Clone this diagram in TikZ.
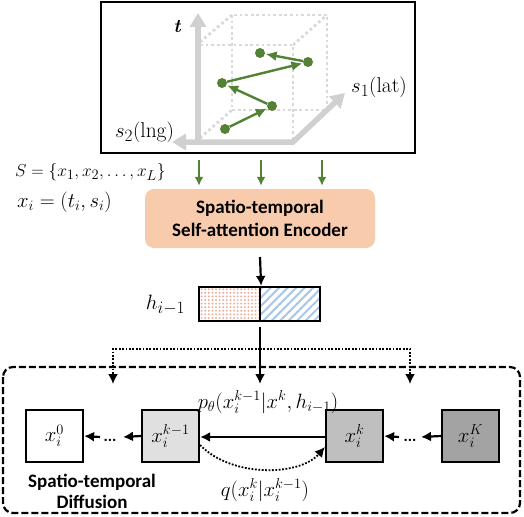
\documentclass[tikz,border=0pt]{standalone}
\usepackage{fontspec}
\newfontfamily\calib{Carlito}
\renewcommand\defaultscriptratio{.76}
\renewcommand\defaultscriptscriptratio{.6}
\usetikzlibrary{arrows.meta,patterns.meta}
\definecolor{axgray}{HTML}{D0D0D0}
\definecolor{cubegray}{HTML}{D9D9D9}
\definecolor{ptgreen}{HTML}{548235}
\definecolor{peach}{HTML}{F8CBAD}
\definecolor{salmon}{HTML}{F2AE9C}
\definecolor{lblue}{HTML}{A9C8E8}
\definecolor{g1}{HTML}{DFE0DF}
\definecolor{g2}{HTML}{BFBFBF}
\definecolor{g3}{HTML}{A3A3A3}
\begin{document}
\begin{tikzpicture}[x=1pt,y=-1pt,
  mtxt/.style={inner sep=0pt, font=\fontsize{18.5}{21}\selectfont},
  btxt/.style={inner sep=0pt, align=center, font=\calib\bfseries\fontsize{19}{24}\selectfont},
  axis/.style={draw=axgray, line width=5.5pt, -{Triangle[length=14pt,width=16pt]}},
  axis2/.style={draw=axgray, line width=5.5pt, {Triangle[length=14pt,width=16pt]}-{Triangle[length=14pt,width=16pt]}, line join=miter},
  cube/.style={draw=cubegray, line width=2.8pt, dash pattern=on 2.8pt off 2.8pt},
  gpt/.style={circle, fill=ptgreen, inner sep=0pt, minimum size=10pt},
  garr/.style={draw=ptgreen, line width=2.4pt, -{Latex[length=11pt,width=10pt]}, shorten >=0.5pt},
  garrdown/.style={draw=ptgreen, line width=2.4pt, -{Latex[length=9pt,width=9pt]}},
  arr/.style={draw=black, line width=2.2pt, -{Latex[length=10pt,width=10pt]}},
  dotarr/.style={draw=black, line width=1.8pt, dash pattern=on 1.8pt off 1.6pt, -{Latex[length=10pt,width=10pt]}},
  sbox/.style={draw=black, line width=2.2pt, minimum width=57pt, minimum height=52pt, inner sep=0pt, font=\fontsize{20}{22}\selectfont},
  ell/.style={inner sep=0pt, font=\calib\bfseries\fontsize{16}{18}\selectfont},
]
\useasboundingbox (0,0) rectangle (524,516);

% ---------------- top panel ----------------
\draw[line width=2.2pt] (101,2) rectangle (415,153);
% dotted cube
\draw[cube] (232,15) rectangle (327,110);
\draw[cube] (200,45) -- (293,45) -- (293,140);
\draw[cube] (200,42) -- (232,15);
\draw[cube] (293,45) -- (327,15);
\draw[cube] (200,138) -- (232,110);
% axes
\coordinate (o) at (198,142);
\coordinate (corner) at (293,142);
\coordinate (tend) at (198,13);
\coordinate (s2end) at (172,142);
\coordinate (s1end) at (345,93);
\draw[axis] (o) -- (tend);
\draw[axis2] (s2end) -- (corner) -- (s1end);
\node[inner sep=0pt, font=\fontsize{19}{20}\selectfont\bfseries\itshape] (tl) at (177,26) {t};
\node[mtxt, font=\fontsize{21.5}{23}\selectfont] (s1l) at (379,87) {$s_1(\mathrm{lat})$};
\node[mtxt, font=\fontsize{21.5}{23}\selectfont] (s2l) at (144.5,132) {$s_2(\mathrm{lng})$};
% trajectory
\node[gpt] (p1) at (225,129) {};
\node[gpt] (p2) at (272,106) {};
\node[gpt] (p3) at (222,83) {};
\node[gpt] (p4) at (308,62) {};
\node[gpt] (p5) at (260,53) {};
\draw[garr] (p1) -- (p2);
\draw[garr] (p2) -- (p3);
\draw[garr] (p3) -- (p4);
\draw[garr] (p4) -- (p5);

% ---------------- encoder ----------------
\node[mtxt, anchor=west] (seq) at (15,172) {$S=\{x_1,x_2,\ldots,x_L\}$};
\node[mtxt, anchor=west, font=\fontsize{20.5}{22}\selectfont] (xi) at (17,202) {$x_i=(t_i,s_i)$};
\node[btxt, fill=peach, rounded corners=9pt, minimum width=230pt, minimum height=59pt] (enc) at (260,218.5) {Spatio-temporal\\[-1pt]Self-attention Encoder};
\coordinate (g1s) at (199,160);
\coordinate (g2s) at (261,160);
\coordinate (g3s) at (322,160);
\draw[garrdown] (g1s) -- ([yshift=3pt]g1s |- enc.north);
\draw[garrdown] (g2s) -- ([yshift=3pt]g2s |- enc.north);
\draw[garrdown] (g3s) -- ([yshift=3pt]g3s |- enc.north);

% ---------------- hidden state ----------------
\node[draw=black, line width=2.2pt, minimum width=61pt, minimum height=34pt, inner sep=0pt,
  pattern={Dots[radius=1.1pt, distance=3.6pt]}, pattern color=salmon] (hl) at (229.5,304) {};
\node[draw=black, line width=2.2pt, minimum width=60pt, minimum height=34pt, inner sep=0pt,
  pattern={Lines[angle=45, distance=6pt, line width=2pt]}, pattern color=lblue] (hr) at (290,304) {};
\node[mtxt, font=\fontsize{22.5}{24}\selectfont] (hlab) at (165.5,305) {$h_{i-1}$};
\coordinate (encout) at (260,257);
\draw[arr] (encout) -- (hl.north east);

% ---------------- diffusion ----------------
\draw[line width=2.2pt, dash pattern=on 7pt off 3pt, rounded corners=10pt] (3,367) rectangle (520,513);
\coordinate (hout) at (260,327);
\coordinate (jn) at (260,349);
\coordinate (cm) at (260,384);
\coordinate (cl) at (113,384);
\coordinate (cr) at (410,384);
\draw[arr] (hout) -- (cm);
\draw[dotarr] (jn) -| (cl);
\draw[dotarr] (jn) -| (cr);

\node[sbox, fill=white] (x0) at (54.5,436) {$x_i^0$};
\node[sbox, fill=g1] (xkm) at (170.5,436) {$x_i^{k-1}$};
\node[sbox, fill=g2] (xk) at (354.5,436) {$x_i^k$};
\node[sbox, fill=g3] (xK) at (470.5,436) {$x_i^K$};
\node[ell] (d1) at (110,440) {...};
\node[ell] (d2) at (410,440) {...};
\coordinate (a1) at (123,437);
\coordinate (a2) at (100,437);
\coordinate (a3) at (421,437);
\coordinate (a4) at (399,437);
\draw[arr] (xkm.west) -- (a1);
\draw[arr] (a2) -- (x0.east);
\draw[arr] (xK.west) -- (a3);
\draw[arr] (a4) -- (xk.east);
\draw[arr] ([yshift=-1pt]xk.west) -- ([yshift=-1pt]xkm.east);
\draw[dotarr] ([yshift=-9pt]xkm.east) .. controls (232,478) and (300,476) .. ([yshift=-11pt]xk.west);
\node[mtxt, font=\fontsize{20}{22}\selectfont] (plab) at (268,402) {$p_\theta(x_i^{k-1}|x^k,h_{i-1})$};
\node[mtxt, font=\fontsize{20}{22}\selectfont] (qlab) at (265,490) {$q(x_i^k|x_i^{k-1})$};
\node[btxt] (dlab) at (92,491) {Spatio-temporal\\[-3pt]Diffusion};
\end{tikzpicture}
\end{document}
